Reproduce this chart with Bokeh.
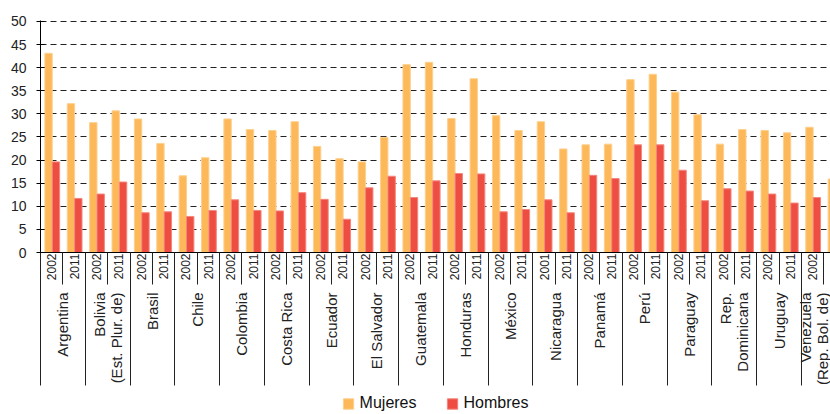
import math
from bokeh.plotting import figure
from bokeh.layouts import column
from bokeh.models import (Range1d, LinearAxis, FixedTicker, ColumnDataSource,
                          Legend, LegendItem)
from bokeh.embed import file_html
from bokeh.resources import INLINE

# ---------------- data ----------------
countries = ["Argentina", "Bolivia\n(Est. Plur. de)", "Brasil", "Chile", "Colombia",
             "Costa Rica", "Ecuador", "El Salvador", "Guatemala", "Honduras",
             "México", "Nicaragua", "Panamá", "Perú", "Paraguay",
             "Rep.\nDominicana", "Uruguay", "Venezuela\n(Rep. Bol. de)"]
years = ["2002", "2011", "2002", "2011", "2002", "2011", "2002", "2011",
         "2002", "2011", "2002", "2011", "2002", "2011", "2002", "2011",
         "2002", "2011", "2002", "2011", "2002", "2011", "2001", "2011",
         "2002", "2011", "2002", "2011", "2002", "2011", "2002", "2011",
         "2002", "2011", "2002", "2011"]
mujeres = [43.1, 32.2, 28.1, 30.65, 28.9, 23.6, 16.6, 20.5, 28.9, 26.6,
           26.4, 28.3, 22.95, 20.3, 19.6, 24.9, 40.65, 41.15, 29.0, 37.6,
           29.6, 26.4, 28.3, 22.4, 23.3, 23.45, 37.4, 38.55, 34.7, 29.8,
           23.45, 26.6, 26.4, 25.9, 27.1, 15.9]
hombres = [19.6, 11.7, 12.65, 15.25, 8.6, 8.8, 7.8, 9.1, 11.4, 9.1,
           9.0, 12.95, 11.5, 7.2, 14.0, 16.5, 11.9, 15.5, 17.1, 17.0,
           8.8, 9.3, 11.4, 8.6, 16.7, 16.0, 23.3, 23.3, 17.8, 11.2,
           13.8, 13.3, 12.65, 10.7, 11.9, 9.0]
series_names = ["Mujeres", "Hombres"]
y_ticks = [0, 5, 10, 15, 20, 25, 30, 35, 40, 45, 50]

C_M = "#FDB85A"
C_H = "#EE4D42"
L_M = "#FDD08E"
L_H = "#F4877E"
FONT = "Liberation Sans"

# each year slot is 2 x-units wide, each country 4 units
n = len(years)
slot_x = [2 * i for i in range(n)]
src = ColumnDataSource(dict(
    xm=[x + 0.72 for x in slot_x],
    xh=[x + 1.38 for x in slot_x],
    m=mujeres, h=hombres))

p = figure(width=830, height=392, output_backend="svg", toolbar_location=None,
           x_range=Range1d(0, 70.6), y_range=Range1d(0, 50.2),
           x_axis_type=None, min_border_left=40, min_border_right=0,
           min_border_top=20, min_border_bottom=140)
p.outline_line_color = None
p.background_fill_color = "white"

# y axis + grid
p.yaxis.ticker = FixedTicker(ticks=y_ticks)
p.ygrid.ticker = FixedTicker(ticks=y_ticks)
p.ygrid.grid_line_color = "#222222"
p.ygrid.grid_line_dash = "6 4"
p.ygrid.grid_line_width = 1
p.yaxis.axis_line_color = "black"
p.yaxis.major_tick_line_color = "black"
p.yaxis.major_tick_in = 4
p.yaxis.major_tick_out = 4
p.yaxis.minor_tick_line_color = None
p.yaxis.major_label_standoff = 10
p.yaxis.major_label_text_font = FONT
p.yaxis.major_label_text_font_size = "14px"
p.yaxis.major_label_text_color = "#222222"

# bars
p.vbar(x="xm", top="m", width=0.66, bottom=0, source=src,
       fill_color=C_M, line_color=L_M, line_width=1)
p.vbar(x="xh", top="h", width=0.66, bottom=0, source=src,
       fill_color=C_H, line_color=L_H, line_width=1)

# year axis (minor ticks = separators between all year slots)
year_centers = [x + 1 for x in slot_x]
slot_bounds = [2 * i for i in range(n + 1)]
ax_year = LinearAxis(
    ticker=FixedTicker(ticks=year_centers, minor_ticks=slot_bounds),
    major_label_overrides={c: y for c, y in zip(year_centers, years)},
    major_label_orientation=math.pi / 2,
    major_tick_in=0, major_tick_out=0,
    minor_tick_in=0, minor_tick_out=32,
    minor_tick_line_color="#222222",
    axis_line_color="black",
    major_label_standoff=-31,
    major_label_text_font=FONT,
    major_label_text_font_size="12px",
    major_label_text_color="#222222")
p.add_layout(ax_year, "below")

# country axis (minor ticks = separators between countries)
country_centers = [4 * k + 2 for k in range(len(countries))]
country_bounds = [4 * k for k in range(len(countries) + 1)]
ax_country = LinearAxis(
    ticker=FixedTicker(ticks=country_centers, minor_ticks=country_bounds),
    major_label_overrides={c: name for c, name in zip(country_centers, countries)},
    major_label_orientation=math.pi / 2,
    major_tick_in=0, major_tick_out=0,
    minor_tick_in=0, minor_tick_out=102,
    minor_tick_line_color="#222222",
    axis_line_color=None,
    major_label_standoff=-93,
    major_label_text_font=FONT,
    major_label_text_font_size="15px",
    major_label_text_line_height=1.0,
    major_label_text_color="#222222")
p.add_layout(ax_country, "below")

# legend strip (separate small figure so the legend is not clipped);
# its proxy renderers use the same data but lie outside this strip's ranges
lg = figure(width=830, height=22, output_backend="svg", toolbar_location=None,
            x_range=Range1d(-10, -9), y_range=Range1d(-10, -9),
            x_axis_type=None, y_axis_type=None,
            min_border_left=40, min_border_right=0,
            min_border_top=0, min_border_bottom=0)
lg.outline_line_color = None
lg.grid.visible = False
lm = lg.vbar(x="xm", top="m", width=0.66, source=src,
             fill_color=C_M, line_color=L_M)
lh = lg.vbar(x="xh", top="h", width=0.66, source=src,
             fill_color=C_H, line_color=L_H)
legend = Legend(items=[LegendItem(label=series_names[0], renderers=[lm]),
                       LegendItem(label=series_names[1], renderers=[lh])],
                orientation="horizontal", location="center",
                glyph_width=13, glyph_height=13, label_standoff=5, spacing=29,
                label_height=16,
                label_text_font=FONT, label_text_font_size="16px",
                label_text_color="#111111", padding=0, margin=0,
                border_line_color=None, background_fill_alpha=0)
lg.add_layout(legend, "center")

layout = column(p, lg, spacing=0)
open("out.html", "w").write(file_html(layout, INLINE))
